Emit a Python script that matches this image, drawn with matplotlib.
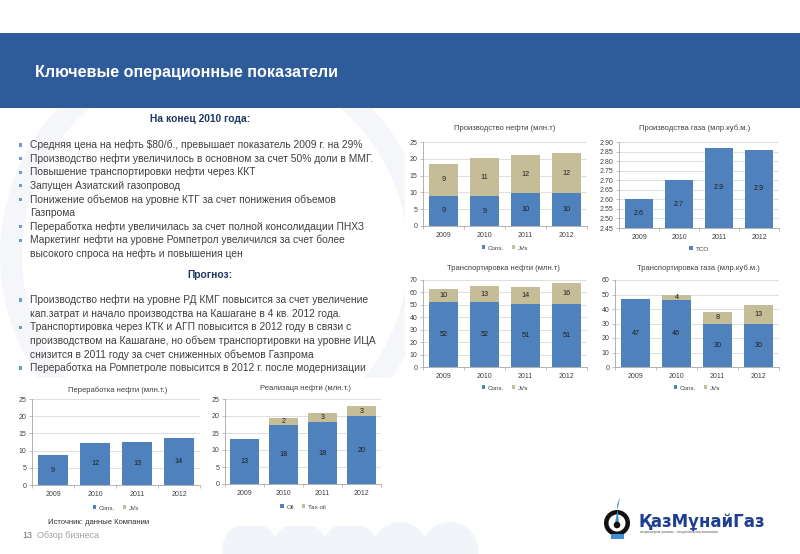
import numpy as np
import matplotlib
matplotlib.use("Agg")
import matplotlib.pyplot as plt
from matplotlib.patches import Rectangle, Circle, Wedge, Polygon

plt.rcParams['font.family'] = ['Liberation Sans', 'DejaVu Sans']

W, H = 800, 554

years = ['2009', '2010', '2011', '2012']

# production of oil (mln t)
oil_prod_cons = [9.0, 8.8, 9.7, 9.7]
oil_prod_jvs = [9.4, 11.4, 11.5, 11.9]
# gas production (bcm), TCO
gas_prod_tco = [2.60, 2.70, 2.87, 2.86]
# oil transportation (mln t)
oil_trans_cons = [52.0, 52.0, 50.7, 51.0]
oil_trans_jvs = [10.4, 13.2, 13.8, 16.3]
# gas transportation (bcm)
gas_trans_cons = [46.8, 45.9, 30.0, 30.0]
gas_trans_jvs = [0.0, 3.9, 7.6, 12.6]
# oil refining (mln t)
refining_cons = [8.7, 12.3, 12.6, 13.7]
refining_jvs = [0.0, 0.0, 0.0, 0.0]
# oil sales (mln t)
sales_oil = [13.3, 17.5, 18.1, 20.0]
sales_tax = [0.0, 2.0, 2.9, 2.9]

BLUE = '#4F81BD'
TAN = '#C4BD97'
TXT = '#404040'

block1 = [
    ("Средняя цена на нефть $80/б., превышает показатель 2009 г. на 29%", True),
    ("Производство нефти увеличилось в основном за счет 50% доли в ММГ.", True),
    ("Повышение транспортировки нефти через ККТ", True),
    ("Запущен Азиатский газопровод", True),
    ("Понижение объемов на уровне КТГ за счет понижения объемов", True),
    ("Газпрома", False),
    ("Переработка нефти увеличилась за счет полной консолидации ПНХЗ", True),
    ("Маркетинг нефти на уровне Ромпетрол увеличился за счет более", True),
    ("высокого спроса на нефть и повышения цен", False),
]
block2 = [
    ("Производство нефти на уровне РД КМГ повысится за счет увеличение", True),
    ("кап.затрат и начало производства на Кашагане в 4 кв. 2012 года.", False),
    ("Транспортировка через КТК и АГП повысится в 2012 году в связи с", True),
    ("производством на Кашагане, но объем транспортировки на уровне ИЦА", False),
    ("снизится в 2011 году за счет сниженных объемов Газпрома", False),
    ("Переработка на Ромпетроле повысится в 2012 г. после модернизации", True),
]

fig = plt.figure(figsize=(W / 100, H / 100), dpi=100)
bg = fig.add_axes([0, 0, 1, 1], zorder=0)
bg.set_xlim(0, W)
bg.set_ylim(H, 0)
bg.axis('off')

# faint watermark
bg.add_patch(Wedge((215, 255), 215, 0, 360, width=22, color='#F5F6FA', lw=0))
for cx in [250, 300, 350, 400, 450]:
    bg.add_patch(Circle((cx, 550), 28, color='#F1F4F9', lw=0))

# header band
bg.add_patch(Rectangle((0, 33), W, 75, color='#2E5C9B', lw=0))
bg.text(35, 73, "Ключевые операционные показатели", color='white', fontsize=11.6,
        fontweight='bold', va='center', ha='left')

# text blocks
def bullets(lines, y0, step=13.6):
    y = y0
    for s, b in lines:
        if b:
            bg.add_patch(Rectangle((18.5, y - 1.7), 3.2, 3.2, color='#6A9BD1', lw=0))
        bg.text(30, y, s, fontsize=7.4, color=TXT, va='center', ha='left')
        y += step

bg.text(200, 119, "На конец 2010 года:", fontsize=7.4, fontweight='bold',
        color='#1F3864', ha='center', va='center')
bullets(block1, 145)
bg.text(210, 275, "Прогноз:", fontsize=7.4, fontweight='bold',
        color='#1F3864', ha='center', va='center')
bullets(block2, 300)

# white panels behind charts
bg.add_patch(Rectangle((405, 115), 395, 272, color='white', lw=0))
bg.add_patch(Rectangle((25, 378), 365, 148, color='white', lw=0))


def chart(px, title, tx, ty, series, colors, names, ylim, yticks, yfmt,
          lfmt, leg_y, base=0.0):
    x0, y0, x1, y1 = px
    ax = fig.add_axes([x0 / W, 1 - y1 / H, (x1 - x0) / W, (y1 - y0) / H], zorder=2)
    ax.set_facecolor('white')
    x = np.arange(len(years))
    bottom = np.full(len(years), base)
    for vals, col, nm in zip(series, colors, names):
        v = np.array(vals, dtype=float)
        h = v - base if base else v
        bars = ax.bar(x, h, 0.72, bottom=bottom, color=col, label=nm, lw=0)
        labs = [lfmt.format(a) if a > 0 else '' for a in v]
        ax.bar_label(bars, labels=labs, label_type='center', fontsize=5.2,
                     color='#1F1F1F')
        bottom = bottom + h
    ax.set_xlim(-0.5, len(years) - 0.5)
    ax.set_ylim(*ylim)
    ax.set_yticks(yticks)
    ax.set_yticklabels([yfmt.format(t) for t in yticks])
    ax.set_xticks(x)
    ax.set_xticklabels(years)
    ax.set_xticks(np.arange(-0.5, len(years)), minor=True)
    ax.tick_params(axis='x', which='major', length=0, labelsize=5,
                   labelcolor=TXT, pad=4)
    ax.tick_params(axis='x', which='minor', length=2, color='#A6A6A6', width=0.5)
    ax.tick_params(axis='y', length=2, color='#A6A6A6', width=0.5, labelsize=5,
                   labelcolor=TXT, pad=2)
    ax.yaxis.grid(True, color='#D9D9D9', lw=0.6)
    ax.set_axisbelow(True)
    for s in ['top', 'right']:
        ax.spines[s].set_visible(False)
    for s in ['left', 'bottom']:
        ax.spines[s].set_color('#A6A6A6')
        ax.spines[s].set_linewidth(0.6)
    ly = (y1 - leg_y) / (y1 - y0)
    ax.legend(loc='center', bbox_to_anchor=(0.5, ly), ncol=len(names),
              fontsize=4.5, frameon=False, handlelength=0.6, handleheight=0.6,
              handletextpad=0.4, columnspacing=1.2, labelcolor=TXT)
    bg.text(tx, ty, title, fontsize=5.5, color=TXT, ha='center', va='center')
    return ax


chart((423, 142, 587, 226), "Производство нефти (млн.т)", 505, 128,
      [oil_prod_cons, oil_prod_jvs], [BLUE, TAN], ['Cons.', 'JVs'],
      (0, 25), range(0, 26, 5), '{:d}', '{:.0f}', 248)
chart((619, 142, 779, 228), "Производства газа (млр.куб.м.)", 695, 128,
      [gas_prod_tco], [BLUE], ['TCO'],
      (2.45, 2.90), np.arange(2.45, 2.91, 0.05), '{:.2f}', '{:.1f}', 249,
      base=2.45)
chart((423, 280, 587, 367), "Транспортировка нефти (млн.т)", 503, 268,
      [oil_trans_cons, oil_trans_jvs], [BLUE, TAN], ['Cons.', 'JVs'],
      (0, 70), range(0, 71, 10), '{:d}', '{:.0f}', 388)
chart((615, 280, 779, 367), "Транспортировка газа (млр.куб.м.)", 698, 268,
      [gas_trans_cons, gas_trans_jvs], [BLUE, TAN], ['Cons.', 'JVs'],
      (0, 60), range(0, 61, 10), '{:d}', '{:.0f}', 388)
chart((32, 399, 200, 485), "Переработка нефти (млн.т.)", 118, 390,
      [refining_cons, refining_jvs], [BLUE, TAN], ['Cons.', 'JVs'],
      (0, 25), range(0, 26, 5), '{:d}', '{:.0f}', 508)
chart((225, 399, 381, 484), "Реализаця нефти (млн.т.)", 305, 388,
      [sales_oil, sales_tax], [BLUE, TAN], ['Oil', 'Tax oil'],
      (0, 25), range(0, 26, 5), '{:d}', '{:.0f}', 507)

# footer
bg.text(48, 523, "Источник: данные Компании", fontsize=5.5, color='#303030',
        va='center', ha='left')
bg.text(22, 536, "13", fontsize=6.5, color='#707070', va='center', ha='left')
bg.text(37, 536, "Обзор бизнеса", fontsize=6.5, color='#A0A0A0', va='center',
        ha='left')

# logo
bg.add_patch(Wedge((617, 523), 13, 0, 360, width=4.5, color='#111111', lw=0))
bg.add_patch(Polygon([(615, 523), (619, 523), (617, 505), (620, 497)],
                     closed=True, color='#3D8FD6', lw=0))
bg.add_patch(Circle((617, 525), 3.3, color='#111111', lw=0))
bg.add_patch(Rectangle((611, 534), 13, 5, color='#3D8FD6', lw=0))
bg.text(639, 522, "ҚазМұнайГаз", fontsize=12, fontweight='bold',
        color='#1E3F8F', family=['DejaVu Sans'], va='center', ha='left')
bg.text(640, 532, "акционерлік қоғамы   национальная компания", fontsize=2.6,
        color='#555555', va='center', ha='left')

fig.savefig('out.png', dpi=100)
